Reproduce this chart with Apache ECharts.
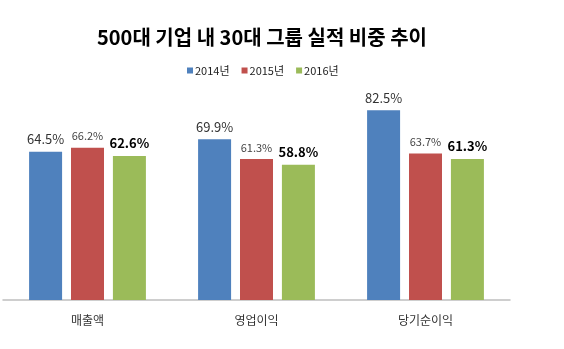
<!DOCTYPE html>
<html><head><meta charset="utf-8">
<script src="https://cdn.jsdelivr.net/npm/echarts@6/dist/echarts.min.js"></script>
<style>html,body{margin:0;padding:0;background:#fff}#c{width:564px;height:349px}</style>
</head><body><div id="c"></div>
<script>
const categories = ['매출액', '영업이익', '당기순이익'];
const seriesNames = ['2014년', '2015년', '2016년'];
const v2014 = [64.5, 69.9, 82.5];
const v2015 = [66.2, 61.3, 63.7];
const v2016 = [62.6, 58.8, 61.3];
const colors = ['#4F81BD', '#C0504D', '#9BBB59'];
const FONT = '"Noto Sans CJK KR", "Noto Sans", sans-serif';
const labelStyles = [
  {fontSize: 13, color: '#333', fontWeight: 'normal', distance: 6},
  {fontSize: 11, color: '#444', fontWeight: 'normal', distance: 6},
  {fontSize: 13, color: '#000', fontWeight: 'bold', distance: 6}
];
const data = [v2014, v2015, v2016];
const chart = echarts.init(document.getElementById('c'));
chart.setOption({
  animation: false,
  textStyle: {fontFamily: FONT},
  title: {text: '500대 기업 내 30대 그룹 실적 비중 추이', left: 97, top: 27, padding: 0,
    textStyle: {fontFamily: FONT, fontSize: 20, fontWeight: 'bold', color: '#000'}},
  legend: {data: seriesNames, left: 187, top: 65, padding: 0, itemWidth: 6, itemHeight: 6, itemGap: 12,
    icon: 'rect', textStyle: {fontFamily: FONT, fontSize: 11, color: '#222', padding: [0,0,0,-3]}},
  grid: {left: 3, right: 54, top: 70, bottom: 49, containLabel: false},
  xAxis: {type: 'category', data: categories,
    axisLine: {lineStyle: {color: '#BFBFBF', width: 1.5}}, axisTick: {show: false},
    axisLabel: {fontFamily: FONT, fontSize: 12, color: '#333', margin: 14}},
  yAxis: {type: 'value', min: 0, max: 100, show: false, splitLine: {show: false}},
  series: data.map((d, i) => ({
    name: seriesNames[i], type: 'bar', data: d, barWidth: 33, barGap: '27%',
    itemStyle: {color: colors[i]},
    label: {show: true, position: 'top', formatter: p => p.value.toFixed(1) + '%',
      fontFamily: FONT, fontSize: labelStyles[i].fontSize, color: labelStyles[i].color,
      fontWeight: labelStyles[i].fontWeight, distance: labelStyles[i].distance}
  }))
});
</script></body></html>
